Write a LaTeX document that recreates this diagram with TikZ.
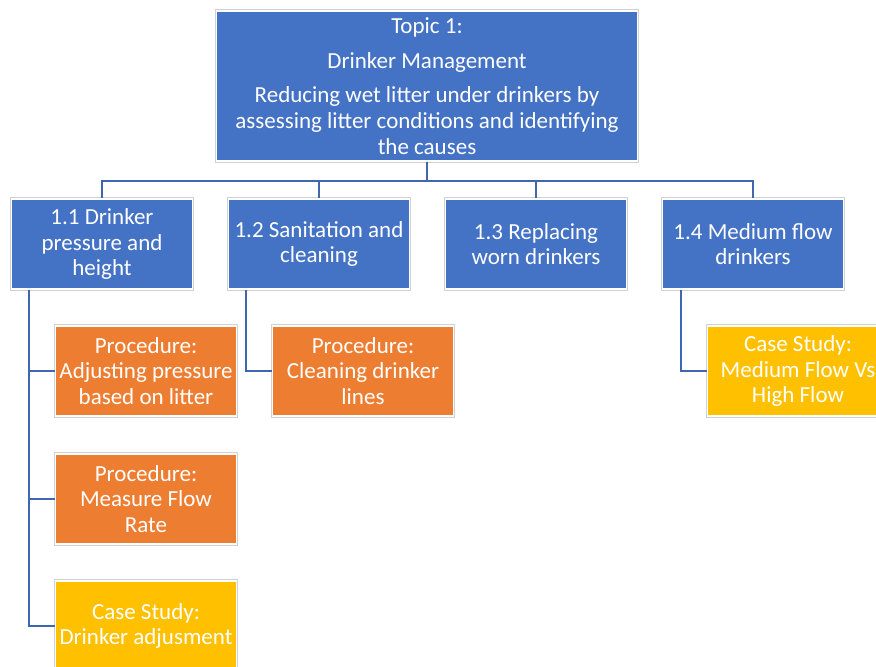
\documentclass[tikz,border=0pt]{standalone}
\usepackage{fontspec}
\setmainfont{Carlito}
\definecolor{topicblue}{HTML}{4472C4}
\definecolor{procorange}{HTML}{ED7D31}
\definecolor{casegold}{HTML}{FFC000}
\definecolor{linkblue}{HTML}{3F67B1}

\begin{document}
\begin{tikzpicture}[x=1pt,y=-1pt,
  box/.style={fill=#1,draw=white,line width=1.4pt,
    preaction={draw=black!18,line width=3.4pt},
    text=white,align=center,minimum width=181pt,minimum height=90pt,
    inner sep=1pt,font=\fontsize{23}{25.8}\selectfont},
  link/.style={draw=linkblue,line width=1.6pt}]
  \useasboundingbox (0,0) rectangle (876,667);
  \clip (0,0) rectangle (876,667);
  % topic
  \node[box=topicblue,minimum width=421pt,minimum height=150pt] (topic) at (427,86)
    {Topic 1:\\[9pt]Drinker Management\\[9pt]Reducing wet litter under drinkers by\\assessing litter conditions and identifying\\the causes};
  % sub topics
  \node[box=topicblue] (sub11) at (102,244) {1.1 Drinker\\pressure and\\height};
  \node[box=topicblue] (sub12) at (319,244) {1.2 Sanitation and\\cleaning};
  \node[box=topicblue] (sub13) at (536,244) {1.3 Replacing\\worn drinkers};
  \node[box=topicblue] (sub14) at (753,244) {1.4 Medium flow\\drinkers};
  % procedures and case studies
  \node[box=procorange] (proc11a) at (146,371) {Procedure:\\Adjusting pressure\\based on litter};
  \node[box=procorange] (proc11b) at (146,499) {Procedure:\\Measure Flow\\Rate};
  \node[box=casegold] (case11) at (146,626) {Case Study:\\Drinker adjusment};
  \node[box=procorange] (proc12) at (363,371) {Procedure:\\Cleaning drinker\\lines};
  \node[box=casegold] (case14) at (798,371) {Case Study:\\Medium Flow Vs\\High Flow};
  % links
  \foreach \s in {sub11,sub12,sub13,sub14}
    \draw[link] (topic.south) -- ++(0,19) -| (\s.north);
  \foreach \c in {proc11a,proc11b,case11}
    \draw[link] ([xshift=18pt]sub11.south west) |- (\c.west);
  \draw[link] ([xshift=18pt]sub12.south west) |- (proc12.west);
  \draw[link] ([xshift=19pt]sub14.south west) |- (case14.west);
\end{tikzpicture}
\end{document}
